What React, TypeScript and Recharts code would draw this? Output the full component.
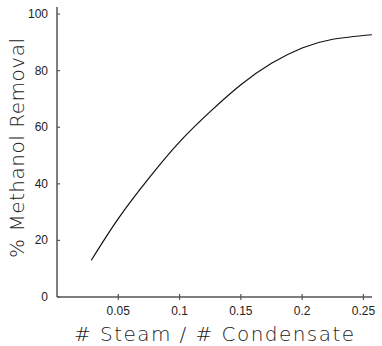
import React from 'react';
import { LineChart, Line, XAxis, YAxis, Label } from 'recharts';

const steamRatio = [0.028, 0.05, 0.075, 0.1, 0.125, 0.15, 0.175, 0.2, 0.225, 0.257];
const methanolRemoval = [13, 27.7, 42, 54.8, 65.5, 75, 82.6, 88.0, 91.1, 92.7];
const xTicks = [0.05, 0.1, 0.15, 0.2, 0.25];
const yTicks = [0, 20, 40, 60, 80, 100];
const xTitle = '# Steam / # Condensate';
const yTitle = '% Methanol Removal';

const data = steamRatio.map((x, i) => ({ x, y: methanolRemoval[i] }));

const AXIS = '#555';
const TEXT = '#222';

const XTick = (props: any) => {
  const { x, y, payload } = props;
  return (
    <g>
      <line x1={x} x2={x} y1={y - 3} y2={y + 3} stroke={AXIS} strokeWidth={1.2} />
      <text x={x} y={y + 18} textAnchor="middle" fontSize={12} fill={TEXT} fontFamily="Liberation Sans, Arial, sans-serif">
        {String(payload.value)}
      </text>
    </g>
  );
};

const YTick = (props: any) => {
  const { x, y, payload } = props;
  return (
    <g>
      <line x1={x} x2={x + 3} y1={y} y2={y} stroke={AXIS} strokeWidth={1.2} />
      <text x={x - 9} y={y + 4} textAnchor="end" fontSize={12} fill={TEXT} fontFamily="Liberation Sans, Arial, sans-serif">
        {String(payload.value)}
      </text>
    </g>
  );
};

const XTitle = (props: any) => {
  const vb = props.viewBox || { x: 57, y: 297, width: 315 };
  return (
    <text x={vb.x + vb.width / 2 - 0.5} y={vb.y + 44} textAnchor="middle" fontSize={20} fill={TEXT}
      fontFamily="DejaVu Sans, sans-serif" fontWeight={200} textLength={280} lengthAdjust="spacing">
      {xTitle}
    </text>
  );
};

const YTitle = () => (
  <text x={24} y={148} transform="rotate(-90 24 148)" textAnchor="middle" fontSize={20} fill={TEXT}
    fontFamily="DejaVu Sans, sans-serif" fontWeight={200} textLength={220} lengthAdjust="spacing">
    {yTitle}
  </text>
);

export default function App() {
  return (
    <div style={{ position: 'absolute', left: 0, top: 0, background: '#fff' }}>
      <LineChart width={382} height={346} data={data} margin={{ top: 7, right: 10, bottom: 0, left: 0 }}>
        <XAxis dataKey="x" type="number" domain={[0, 0.257]} ticks={xTicks} allowDataOverflow
          height={49} tickSize={0} tickMargin={0} tickLine={false} stroke={AXIS} strokeWidth={1.5} tick={<XTick />}>
          <Label content={<XTitle />} />
        </XAxis>
        <YAxis type="number" domain={[0, 102.5]} ticks={yTicks} allowDataOverflow width={57}
          tickSize={0} tickMargin={0} tickLine={false} stroke={AXIS} strokeWidth={1.5} tick={<YTick />}>
          <Label content={<YTitle />} />
        </YAxis>
        <Line dataKey="y" type="natural" stroke="#111" strokeWidth={1.2} dot={false} isAnimationActive={false} />
      </LineChart>
    </div>
  );
}
